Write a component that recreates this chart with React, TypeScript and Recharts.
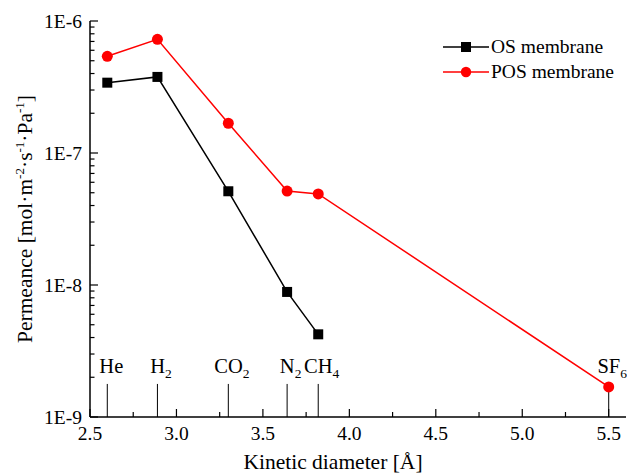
import React from 'react';
import { LineChart, Line, XAxis, YAxis, ReferenceLine, Legend } from 'recharts';

const FONT = "'Liberation Serif', 'Times New Roman', serif";

// Gas labels and kinetic diameters (Å)
const gasNames = ['He', 'H', 'CO', 'N', 'CH', 'SF'];
const gasSubscripts = ['', '2', '2', '2', '4', '6'];
const gasDiameters = [2.6, 2.89, 3.3, 3.64, 3.82, 5.5];

// Permeance values (mol·m-2·s-1·Pa-1)
const osPermeance = [3.41e-7, 3.77e-7, 5.13e-8, 8.86e-9, 4.23e-9];
const posPermeance = [5.4e-7, 7.27e-7, 1.68e-7, 5.15e-8, 4.9e-8, 1.69e-9];

// Axis ticks
const xTicks = [2.5, 2.75, 3.0, 3.25, 3.5, 3.75, 4.0, 4.25, 4.5, 4.75, 5.0, 5.25, 5.5];
const xTickLabels = ['2.5', '', '3.0', '', '3.5', '', '4.0', '', '4.5', '', '5.0', '', '5.5'];
const yDecades = [1e-9, 1e-8, 1e-7, 1e-6];
const yDecadeLabels = ['1E-9', '1E-8', '1E-7', '1E-6'];
const yMultipliers = [1, 2, 3, 4, 5, 6, 7, 8, 9];
const markerLineTop = 1.78e-9;

const osData = osPermeance.map((v, i) => ({ x: gasDiameters[i], y: v }));
const posData = posPermeance.map((v, i) => ({ x: gasDiameters[i], y: v }));

const yTicks: number[] = [];
yDecades.slice(0, 3).forEach((d) => yMultipliers.forEach((m) => yTicks.push(d * m)));
yTicks.push(yDecades[3]);

const decadeIndex = (v: number) => yDecades.findIndex((d) => Math.abs(v / d - 1) < 1e-6);

const YTick = (props: any) => {
  const { x, y, payload, side } = props;
  const idx = decadeIndex(payload.value);
  const major = idx >= 0;
  const len = major ? 8 : 4.5;
  const dir = side === 'left' ? 1 : -1;
  return (
    <g>
      <line x1={x} y1={y} x2={x + dir * len} y2={y} stroke="#000" strokeWidth={1.2} />
      {side === 'left' && major && (
        <text x={x - 8} y={y} dy="0.35em" textAnchor="end" fontSize={19.5} fontFamily={FONT} fill="#000">
          {yDecadeLabels[idx]}
        </text>
      )}
    </g>
  );
};

const XTick = (props: any) => {
  const { x, y, payload, side } = props;
  const idx = xTicks.findIndex((t) => Math.abs(t - payload.value) < 1e-6);
  const label = idx >= 0 ? xTickLabels[idx] : '';
  const major = label !== '';
  const len = major ? 8 : 5;
  const dir = side === 'bottom' ? -1 : 1;
  return (
    <g>
      <line x1={x} y1={y} x2={x} y2={y + dir * len} stroke="#000" strokeWidth={1.2} />
      {side === 'bottom' && major && (
        <text x={x} y={y + 22.5} textAnchor="middle" fontSize={19.5} fontFamily={FONT} fill="#000">
          {label}
        </text>
      )}
    </g>
  );
};

const XTitle = (props: any) => {
  const vb = props.viewBox || { x: 90, y: 417, width: 536, height: 56 };
  return (
    <text x={vb.x + vb.width / 2 - 25} y={vb.y + 52} textAnchor="middle" fontSize={21.5} fontFamily={FONT} fill="#000">
      Kinetic diameter [Å]
    </text>
  );
};

const YTitle = (props: any) => {
  const vb = props.viewBox || { x: 0, y: 21, width: 90, height: 396 };
  const cx = vb.x + 32;
  const cy = vb.y + vb.height / 2;
  const sup = { fontSize: 13 };
  return (
    <text transform={`translate(${cx},${cy}) rotate(-90)`} textAnchor="middle" fontSize={21.5} fontFamily={FONT} fill="#000">
      <tspan>Permeance [mol·m</tspan>
      <tspan dy={-8} {...sup}>-2</tspan>
      <tspan dy={8}>·s</tspan>
      <tspan dy={-8} {...sup}>-1</tspan>
      <tspan dy={8}>·Pa</tspan>
      <tspan dy={-8} {...sup}>-1</tspan>
      <tspan dy={8}>]</tspan>
    </text>
  );
};

const GasLabel = (i: number) => (props: any) => {
  const vb = props.viewBox;
  if (!vb) return null;
  const cx = vb.x + (gasSubscripts[i] ? 3.5 : 4);
  return (
    <text x={cx} y={vb.y - 11} textAnchor="middle" fontSize={20.5} fontFamily={FONT} fill="#000">
      <tspan>{gasNames[i]}</tspan>
      {gasSubscripts[i] && (
        <tspan dy={5} fontSize={13.5}>{gasSubscripts[i]}</tspan>
      )}
    </text>
  );
};

const SquareDot = (props: any) => {
  const { cx, cy } = props;
  if (cx == null || cy == null) return null;
  return <rect x={cx - 5} y={cy - 5} width={10} height={10} fill="#000" />;
};

const CircleDot = (props: any) => {
  const { cx, cy } = props;
  if (cx == null || cy == null) return null;
  return <circle cx={cx} cy={cy} r={5.5} fill="#ff0000" />;
};

const legendItems = [
  { name: 'OS membrane', color: '#000000', shape: 'square' },
  { name: 'POS membrane', color: '#ff0000', shape: 'circle' },
];

const LegendContent = () => (
  <div style={{ fontFamily: FONT, fontSize: 19.5, lineHeight: '25px', color: '#000' }}>
    {legendItems.map((it) => (
      <div key={it.name} style={{ display: 'flex', alignItems: 'center', height: 25 }}>
        <svg width={48} height={14} style={{ display: 'block' }}>
          <line x1={0} y1={7} x2={46} y2={7} stroke={it.color} strokeWidth={1.5} />
          {it.shape === 'square' ? (
            <rect x={18} y={2} width={10} height={10} fill={it.color} />
          ) : (
            <circle cx={23} cy={7} r={5.2} fill={it.color} />
          )}
        </svg>
        <span>{it.name}</span>
      </div>
    ))}
  </div>
);

export default function App() {
  return (
    <div style={{ position: 'absolute', left: 0, top: 0, width: 627, height: 473, background: '#fff' }}>
      <LineChart width={627} height={473} margin={{ top: 21, right: 1, bottom: 0, left: 0 }}>
        <XAxis
          xAxisId="b"
          dataKey="x"
          type="number"
          domain={[2.5, 5.6]}
          allowDataOverflow
          ticks={xTicks}
          interval={0}
          tickSize={0}
          tickMargin={0}
          tickLine={false}
          height={56}
          axisLine={{ stroke: '#000', strokeWidth: 1.5 }}
          tick={(p: any) => <XTick {...p} side="bottom" />}
          label={(p: any) => <XTitle {...p} />}
        />
        <XAxis
          xAxisId="t"
          orientation="top"
          dataKey="x"
          type="number"
          domain={[2.5, 5.6]}
          allowDataOverflow
          ticks={xTicks}
          interval={0}
          tickSize={0}
          tickMargin={0}
          tickLine={false}
          height={0}
          axisLine={{ stroke: '#000', strokeWidth: 1.5 }}
          tick={(p: any) => <XTick {...p} side="top" />}
        />
        <YAxis
          yAxisId="l"
          type="number"
          scale="log"
          domain={[1e-9, 1e-6]}
          allowDataOverflow
          ticks={yTicks}
          interval={0}
          tickSize={0}
          tickMargin={0}
          tickLine={false}
          width={90}
          axisLine={{ stroke: '#000', strokeWidth: 1.5 }}
          tick={(p: any) => <YTick {...p} side="left" />}
          label={(p: any) => <YTitle {...p} />}
        />
        <YAxis
          yAxisId="r"
          orientation="right"
          type="number"
          scale="log"
          domain={[1e-9, 1e-6]}
          allowDataOverflow
          ticks={yTicks}
          interval={0}
          tickSize={0}
          tickMargin={0}
          tickLine={false}
          width={0}
          axisLine={{ stroke: '#000', strokeWidth: 1.5 }}
          tick={(p: any) => <YTick {...p} side="right" />}
        />
        {gasDiameters.map((d, i) => (
          <ReferenceLine
            key={gasNames[i] + i}
            xAxisId="b"
            yAxisId="l"
            segment={[{ x: d, y: yDecades[0] }, { x: d, y: markerLineTop }]}
            stroke="#000"
            strokeWidth={1}
            label={GasLabel(i)}
          />
        ))}
        <Line
          data={posData}
          dataKey="y"
          xAxisId="b"
          yAxisId="l"
          stroke="#ff0000"
          strokeWidth={1.5}
          dot={<CircleDot />}
          activeDot={false}
          isAnimationActive={false}
          name="POS membrane"
        />
        <Line
          data={osData}
          dataKey="y"
          xAxisId="b"
          yAxisId="l"
          stroke="#000"
          strokeWidth={1.5}
          dot={<SquareDot />}
          activeDot={false}
          isAnimationActive={false}
          name="OS membrane"
        />
        <Legend
          layout="vertical"
          align="center"
          verticalAlign="middle"
          content={<LegendContent />}
          wrapperStyle={{ position: 'absolute', left: 443, top: 34, width: 'auto', height: 'auto' }}
        />
      </LineChart>
    </div>
  );
}
